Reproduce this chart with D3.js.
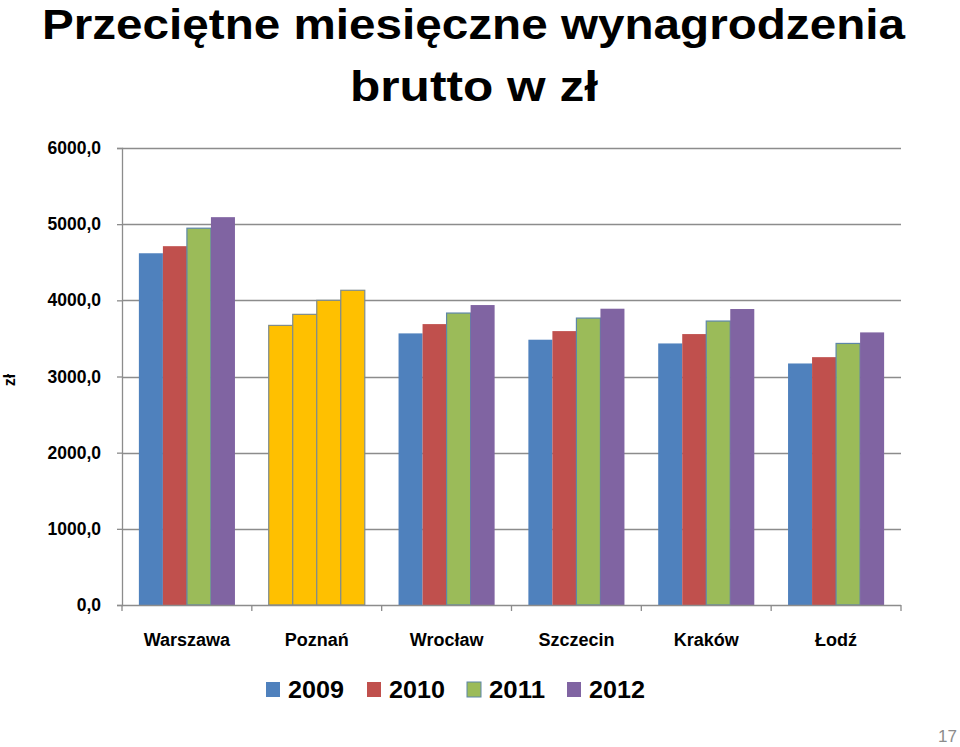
<!DOCTYPE html>
<html><head><meta charset="utf-8">
<script src="https://cdn.jsdelivr.net/npm/d3@7"></script>
<style>body{margin:0;background:#fff}svg{display:block}text{font-family:"Liberation Sans",Arial,sans-serif}</style>
</head><body>
<script>
const cities = ["Warszawa","Poznań","Wrocław","Szczecin","Kraków","Łodź"];
const years = ["2009","2010","2011","2012"];
const v2009 = [4618,3671,3566,3483,3434,3171];
const v2010 = [4711,3816,3688,3596,3557,3254];
const v2011 = [4947,4000,3833,3767,3728,3434];
const v2012 = [5092,4132,3938,3890,3886,3579];
const series = [v2009,v2010,v2011,v2012];
const yTicks = [0,1000,2000,3000,4000,5000,6000];
const colors = ["#4F81BD","#C0504D","#9BBB59","#8064A2"];
const highlight = "Poznań", highlightColor = "#FFC000";

const W=960,H=747;
const svg=d3.select("body").append("svg").attr("width",W).attr("height",H);
const x=d3.scaleBand().domain(cities).range([122,901]).paddingInner(0.26).paddingOuter(0.13);
const xs=d3.scaleBand().domain(years).range([0,x.bandwidth()]);
const y=d3.scaleLinear().domain([0,6000]).range([605,148]);

// gridlines
svg.append("g").selectAll("line").data(yTicks.filter(d=>d>0)).join("line")
  .attr("x1",122).attr("x2",901).attr("y1",d=>Math.round(y(d))+0.5).attr("y2",d=>Math.round(y(d))+0.5)
  .attr("stroke","#8c8c8c").attr("stroke-width",1.3);

// bars
const rows=[];
cities.forEach((c,i)=>years.forEach((yr,j)=>rows.push({c,yr,j,v:series[j][i]})));
svg.append("g").selectAll("rect").data(rows).join("rect")
  .attr("x",d=>x(d.c)+xs(d.yr)).attr("width",xs.bandwidth())
  .attr("y",d=>y(d.v)).attr("height",d=>y(0)-y(d.v))
  .attr("fill",d=>d.c===highlight?highlightColor:colors[d.j])
  .attr("stroke",d=>d.c===highlight?"#7f8c8d":(d.j===2?"#5d86a8":"none"))
  .attr("stroke-width",1.2);

// y axis
const ya=d3.axisLeft(y).tickValues(yTicks).tickSize(5).tickFormat(d=>d3.format(".1f")(d).replace(".",","));
const yg=svg.append("g").attr("transform","translate(122,0)").call(ya);
yg.select(".domain").attr("stroke","#8c8c8c").attr("stroke-width",1.3);
yg.selectAll(".tick line").attr("stroke","#8c8c8c").attr("stroke-width",1.3);
yg.selectAll(".tick text").attr("x",-21).attr("font-size",17.5).attr("font-weight","bold").attr("fill","#000").attr("font-family","Liberation Sans");

// x axis
const xb=d3.scaleLinear().domain([0,6]).range([122,901]);
svg.append("line").attr("x1",122).attr("x2",901).attr("y1",605.5).attr("y2",605.5).attr("stroke","#8c8c8c").attr("stroke-width",1.3);
svg.append("g").selectAll("line").data(d3.range(7)).join("line")
  .attr("x1",d=>xb(d)).attr("x2",d=>xb(d)).attr("y1",605).attr("y2",611).attr("stroke","#8c8c8c").attr("stroke-width",1.3);
svg.append("g").selectAll("text").data(cities).join("text")
  .attr("x",d=>x(d)+x.bandwidth()/2).attr("y",646).attr("text-anchor","middle")
  .attr("font-size",18).attr("font-weight","bold").text(d=>d);

// y title
svg.append("text").attr("transform","translate(15,380) rotate(-90)").attr("text-anchor","middle")
  .attr("font-size",16).attr("font-weight","bold").text("zł");

// title
svg.append("text").attr("x",42).attr("y",39).attr("font-size",42).attr("font-weight","bold")
  .attr("textLength",863).attr("lengthAdjust","spacingAndGlyphs").text("Przeciętne miesięczne wynagrodzenia");
svg.append("text").attr("x",350).attr("y",101).attr("font-size",42).attr("font-weight","bold")
  .attr("textLength",248).attr("lengthAdjust","spacingAndGlyphs").text("brutto w zł");

// legend
const lx=[266,367,467,567];
const lg=svg.append("g").selectAll("g").data(years).join("g").attr("transform",(d,i)=>`translate(${lx[i]},0)`);
lg.append("rect").attr("x",0).attr("y",682).attr("width",14).attr("height",15)
  .attr("fill",(d,i)=>colors[i]).attr("stroke",(d,i)=>i===2?"#5d86a8":"none");
lg.append("text").attr("x",22).attr("y",698).attr("font-size",24).attr("font-weight","bold")
  .attr("textLength",56).attr("lengthAdjust","spacingAndGlyphs").text(d=>d);

// page number
svg.append("text").attr("x",957).attr("y",742).attr("text-anchor","end").attr("font-size",17).attr("fill","#8c8c8c").text("17");
</script>
</body></html>
